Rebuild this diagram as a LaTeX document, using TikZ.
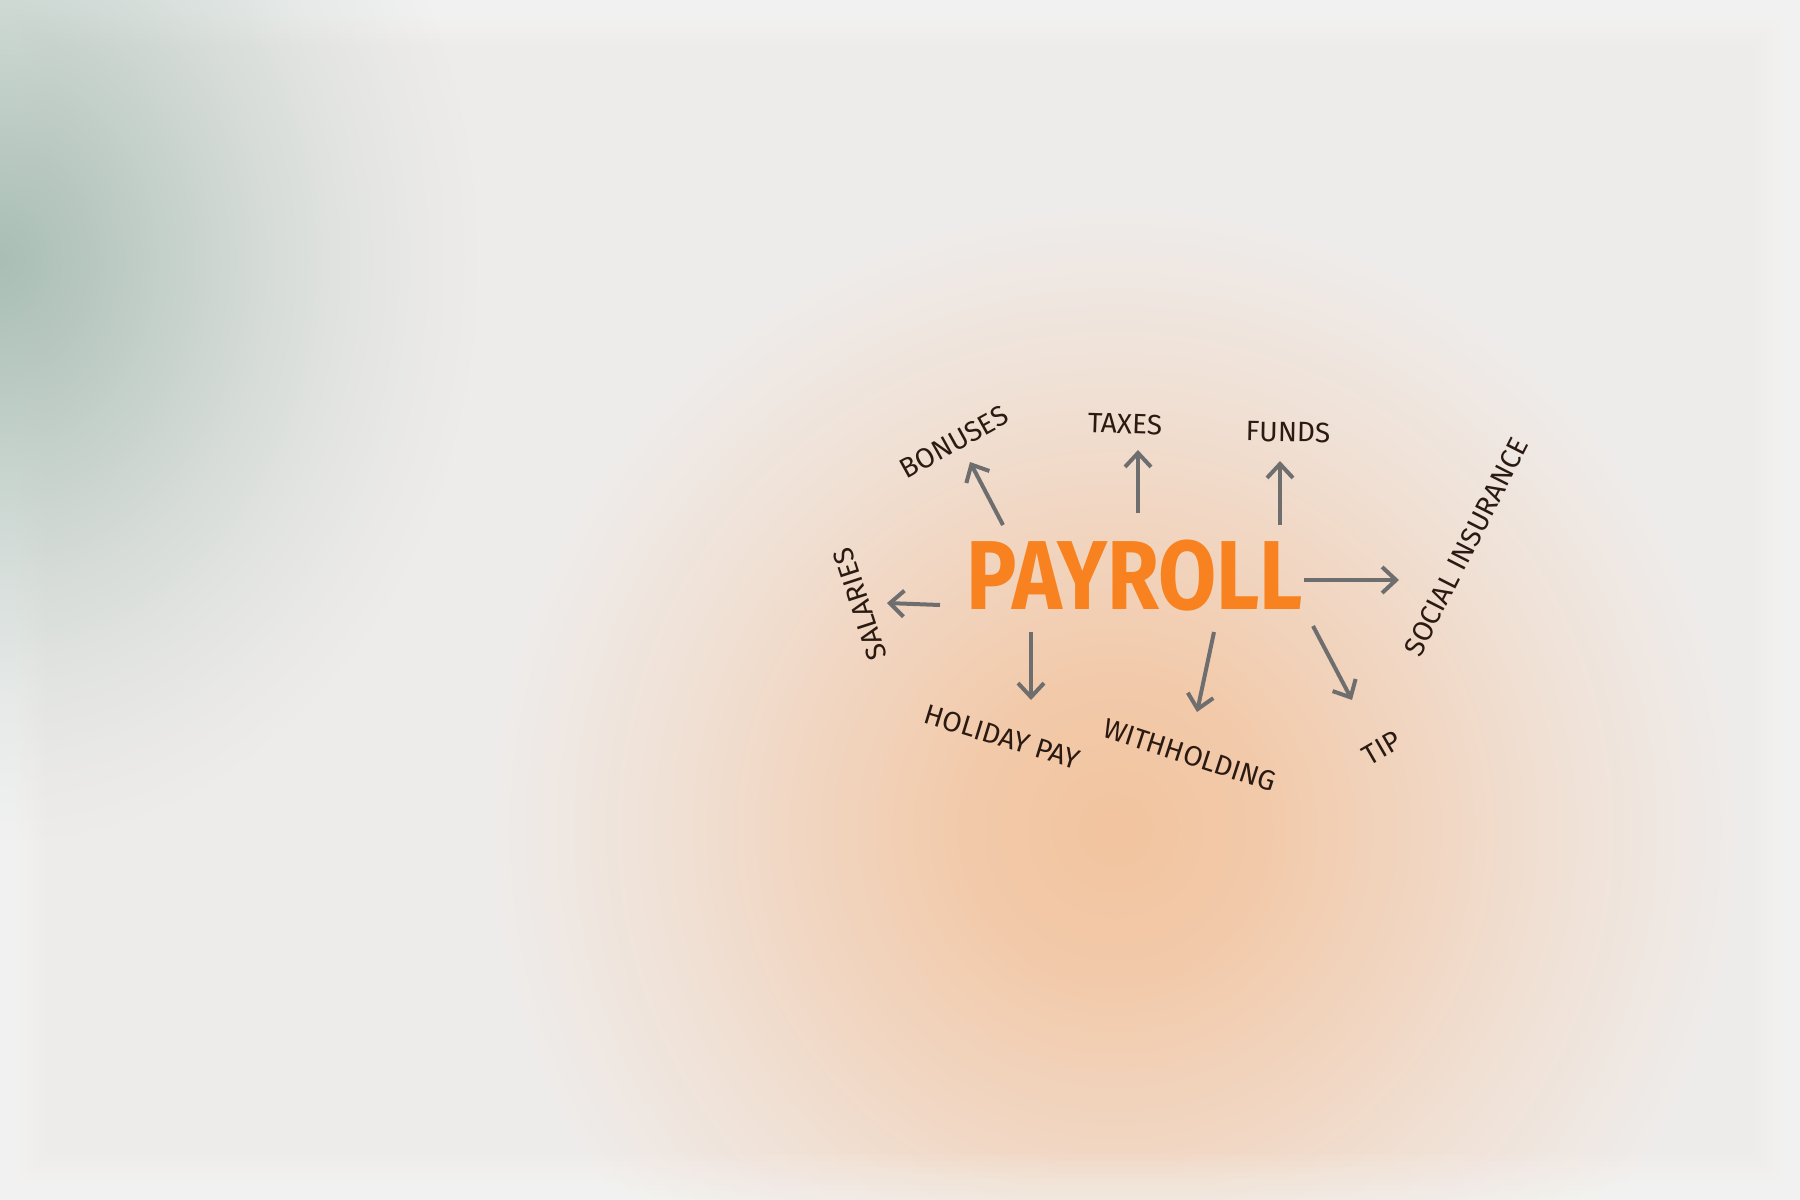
\documentclass[tikz,border=0pt]{standalone}
\usepackage{fontspec}
\setmainfont{Fira Sans}
\usetikzlibrary{arrows.meta,fadings}
\definecolor{bgc}{HTML}{EEECEB}
\definecolor{pk0}{HTML}{F2C49F}
\definecolor{pk1}{HTML}{F2CAAA}
\definecolor{pk2}{HTML}{F1D5C0}
\definecolor{pk3}{HTML}{F0E1D6}
\definecolor{gr0}{HTML}{A9BEB5}
\definecolor{arrgray}{HTML}{6E6E6E}
\definecolor{ink}{HTML}{2A1A12}
\definecolor{payorange}{HTML}{F7821F}
\pgfdeclareradialshading{orangeglow}{\pgfpointorigin}{color(0bp)=(pk0); color(6bp)=(pk1); color(12bp)=(pk2); color(18bp)=(pk3); color(25bp)=(bgc); color(50bp)=(bgc)}
\pgfdeclareradialshading{greenfadeshade}{\pgfpointorigin}{color(0bp)=(white); color(6bp)=(white!72!black); color(13bp)=(white!38!black); color(19bp)=(white!14!black); color(25bp)=(black); color(50bp)=(black)}
\pgfdeclarefading{greenfade}{\pgfuseshading{greenfadeshade}}
\tikzset{
  lbl/.style={text=ink, font=\fontsize{28}{30}\selectfont, inner sep=0pt, anchor=center},
  arr/.style={draw=arrgray, line width=4pt, -{Straight Barb[length=14pt,width=26pt]}},
}
\begin{document}
\begin{tikzpicture}[x=1pt,y=-1pt]
\useasboundingbox (0,0) rectangle (1800,1200);
\fill[bgc] (0,0) rectangle (1800,1200);
\begin{scope}
\clip (0,0) rectangle (1800,1200);
\shade[shading=orangeglow] (1115,830) circle[radius=630pt];
\foreach \w in {90,78,...,6}
  \draw[white, opacity=0.07, line width=\w pt] (0,0) rectangle (1800,1200);
\fill[gr0, path fading=greenfade] (0,260) ellipse[x radius=480pt, y radius=580pt];
\end{scope}

% central word
\node[text=payorange, inner sep=0pt] (payroll) at (1135,576)
  {\scalebox{0.86}[1]{\fontsize{98}{100}\selectfont\bfseries PAYROLL}};

% labels
\node[lbl, rotate=29]  (bonuses)     at (954,442)  {BONUSES};
\node[lbl, rotate=-2]  (taxes)       at (1125,424) {TAXES};
\node[lbl, rotate=-1]  (funds)       at (1288,432) {FUNDS};
\node[lbl, rotate=63]  (social)      at (1466,547) {SOCIAL INSURANCE};
\node[lbl, rotate=108] (salaries)    at (860,604)  {SALARIES};
\node[lbl, rotate=-17] (holiday)     at (1002,737) {HOLIDAY PAY};
\node[lbl, rotate=-18] (withholding) at (1190,755) {WITHHOLDING};
\node[lbl, rotate=30]  (tip)         at (1382,748) {TIP};

% arrow end points
\coordinate (s-sal) at (940,605);  \coordinate (e-sal) at (887,603);
\coordinate (s-bon) at (1003,525); \coordinate (e-bon) at (970,462);
\coordinate (s-tax) at (1138,513); \coordinate (e-tax) at (1138,450);
\coordinate (s-fun) at (1280,525); \coordinate (e-fun) at (1280,461);
\coordinate (s-soc) at (1304,580); \coordinate (e-soc) at (1399,580);
\coordinate (s-hol) at (1031,632); \coordinate (e-hol) at (1031,700);
\coordinate (s-wit) at (1214,632); \coordinate (e-wit) at (1197,712);
\coordinate (s-tip) at (1313,626); \coordinate (e-tip) at (1352,700);

\draw[arr] (s-sal) -- (e-sal);
\draw[arr] (s-bon) -- (e-bon);
\draw[arr] (s-tax) -- (e-tax);
\draw[arr] (s-fun) -- (e-fun);
\draw[arr] (s-soc) -- (e-soc);
\draw[arr] (s-hol) -- (e-hol);
\draw[arr] (s-wit) -- (e-wit);
\draw[arr] (s-tip) -- (e-tip);
\end{tikzpicture}
\end{document}
